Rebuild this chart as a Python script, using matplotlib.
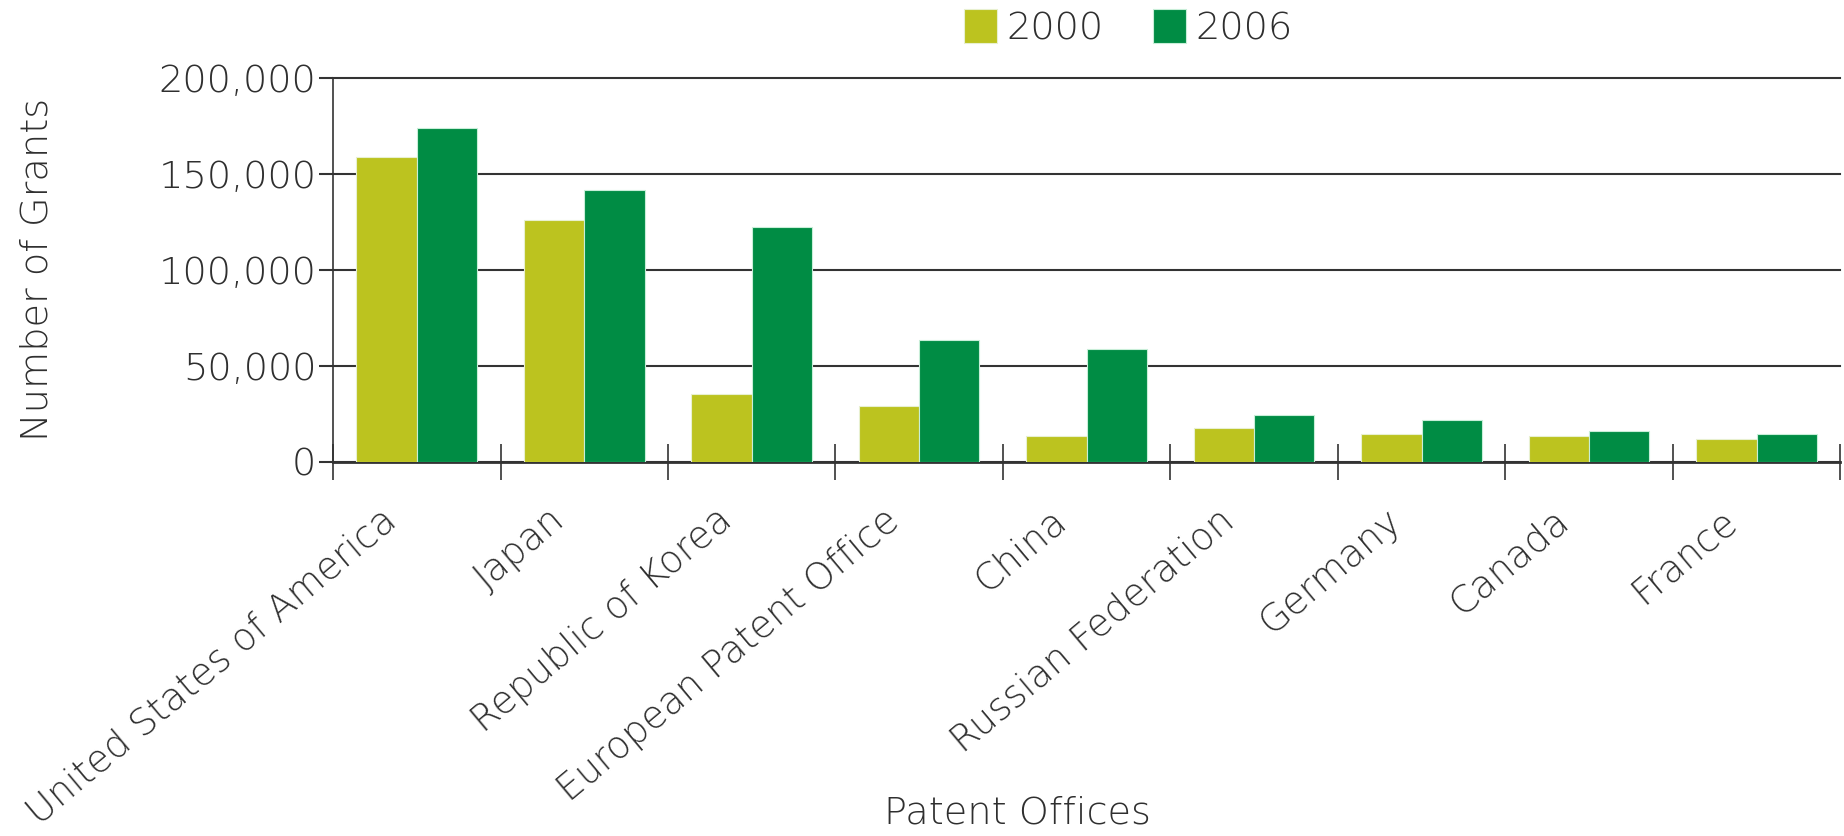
import numpy as np
import matplotlib
matplotlib.use('Agg')
import matplotlib.pyplot as plt
import matplotlib.transforms as mtransforms

# Patent grants by office
offices = ['United States of America', 'Japan', 'Republic of Korea',
           'European Patent Office', 'China', 'Russian Federation',
           'Germany', 'Canada', 'France']
grants_2000 = [158700, 125800, 35500, 29100, 13500, 17700, 14400, 13500, 11800]
grants_2006 = [174000, 141400, 122300, 63500, 58600, 24300, 21700, 16000, 14400]
years = ['2000', '2006']

col_2000 = '#BCC31F'
col_2006 = '#008C44'
txt = '#2f2f2f'
fs = 27.5

plt.rcParams['font.family'] = ['DejaVu Sans']
plt.rcParams['font.weight'] = 'light'

fig = plt.figure(figsize=(18.44, 8.36), dpi=100)
ax = fig.add_axes([0.1806, 0.4474, 0.8174, 0.4598])

x = np.arange(len(offices))
w = 0.36
b1 = ax.bar(x - w/2, grants_2000, w, color=col_2000, edgecolor='#e8f0d0', linewidth=0.8, label=years[0], zorder=3)
b2 = ax.bar(x + w/2, grants_2006, w, color=col_2006, edgecolor='#c8eed8', linewidth=0.8, label=years[1], zorder=3)

ax.set_xlim(-0.5, len(offices) - 0.5)
ax.set_ylim(0, 200000)
ax.set_yticks(np.arange(0, 200001, 50000))
ax.set_yticklabels([f'{v:,}' for v in range(0, 200001, 50000)], fontsize=fs, color=txt)
ax.grid(axis='y', color='#333333', linewidth=1.5, zorder=0)
for gl in ax.get_ygridlines():
    gl.set_clip_on(False)

# category labels at centres, tick marks between categories
ax.set_xticks(x)
ax.set_xticklabels(offices, rotation=40, ha='right', rotation_mode='anchor',
                   fontsize=27, color=txt)
ax.tick_params(axis='x', which='major', length=0, pad=29)
shift = mtransforms.ScaledTranslation(-0.36, 0, fig.dpi_scale_trans)
for lab in ax.get_xticklabels():
    lab.set_transform(lab.get_transform() + shift)
ax.set_xticks(np.arange(-0.5, len(offices)), minor=True)
ax.tick_params(axis='x', which='minor', length=26, direction='inout', width=1.2, color='#333333')
ax.tick_params(axis='y', length=10, width=1.5, color='#333333', pad=2)

for s in ['top', 'right']:
    ax.spines[s].set_visible(False)
ax.spines['left'].set_color('#333333')
ax.spines['left'].set_linewidth(1.2)
ax.spines['bottom'].set_color('#333333')
ax.spines['bottom'].set_linewidth(2)

fig.text(0.020, 0.678, 'Number of Grants', rotation=90, fontsize=fs, color=txt,
         ha='center', va='center')
fig.text(0.552, 0.027, 'Patent Offices', fontsize=fs, color=txt, ha='center', va='center')

fig.legend(handles=[b1, b2], labels=years, loc='upper center', bbox_to_anchor=(0.612, 1.03),
           ncol=2, frameon=False, fontsize=fs, handlelength=0.85, handleheight=1.0,
           handletextpad=0.25, columnspacing=1.3, labelcolor=txt)

fig.savefig('out.png', dpi=100)
